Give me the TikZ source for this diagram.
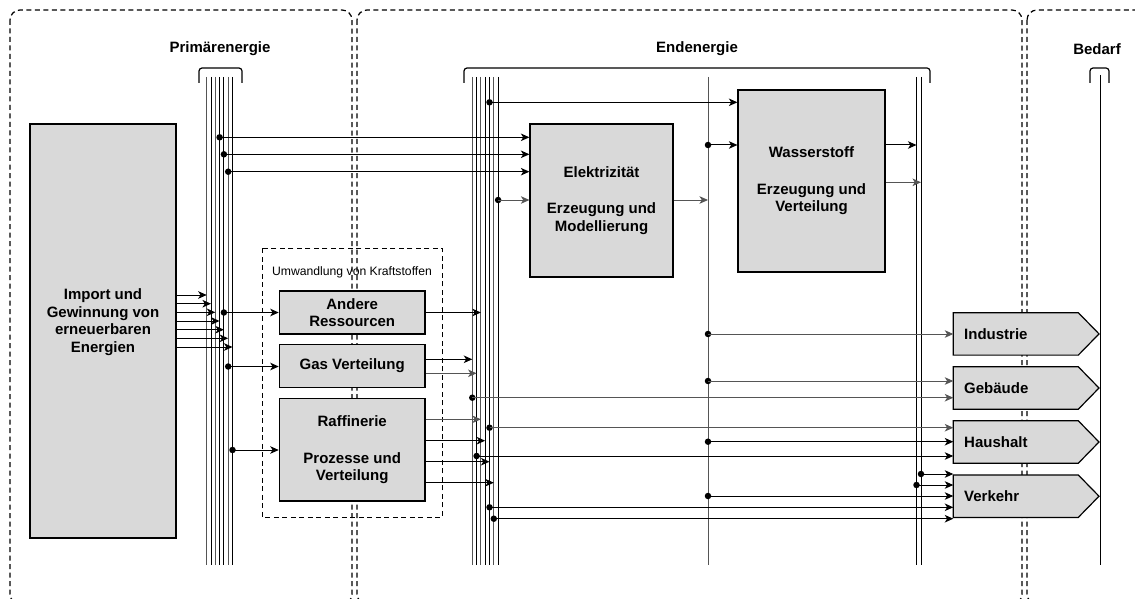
\documentclass[tikz,border=0pt]{standalone}
\usepackage{fontspec}
\setmainfont{Liberation Sans}
\usetikzlibrary{arrows.meta}
\definecolor{boxfill}{RGB}{217,217,217}
\definecolor{lgray}{RGB}{85,85,85}
\begin{document}
\begin{tikzpicture}[x=1pt,y=-1pt,
  box/.style={draw, line width=1.2pt, fill=boxfill, inner sep=0pt},
  btext/.style={font=\bfseries\fontsize{15}{17.5}\selectfont, align=center, inner sep=0pt},
  title/.style={font=\bfseries\fontsize{15}{17.5}\selectfont, inner sep=0pt},
  small/.style={font=\fontsize{12.2}{14}\selectfont, inner sep=0pt},
  region/.style={draw, line width=1.2pt, dash pattern=on 5pt off 3.5pt, rounded corners=10pt},
  subregion/.style={draw, line width=1.2pt, dash pattern=on 5pt off 3.5pt},
  busline/.style={line width=1pt},
  bracket/.style={draw, line width=1.2pt, rounded corners=3pt},
  conn/.style={line width=1pt, -{Stealth[length=8.5pt,width=7.5pt,inset=2.3pt]}},
  dot/.style={circle, fill=black, inner sep=0pt, minimum size=6.5pt},
  dbox/.style={draw, line width=1.2pt, fill=boxfill},
]
\useasboundingbox (0,0) rectangle (1135,599);
\clip (0,0) rectangle (1135,599);

% regions
\draw[region] (10,10) rectangle (352,604);
\draw[region] (357,10) rectangle (1022,604);
\draw[region] (1027,10) rectangle (1150,604);
\draw[subregion] (262.3,248.3) rectangle (442.3,517.3);

% titles
\node[title] (tprim) at (220,49) {Primärenergie};
\node[title] (tend) at (697,49) {Endenergie};
\node[title] (tbed) at (1097,49) {Bedarf};
\node[small] (tumw) at (352,272) {Umwandlung von Kraftstoffen};

% brackets
\draw[bracket] (199,83) -- (199,68) -- (242,68) -- (242,83);
\draw[bracket] (464,83) -- (464,68) -- (930,68) -- (930,83);
\draw[bracket] (1090,83) -- (1090,68) -- (1109,68) -- (1109,83);

% bus lines
\foreach \i/\x/\c in {1/206.7/lgray,2/211/black,3/215.3/lgray,4/219.6/black,5/223.9/black,6/228.2/lgray,7/232.5/black}{
  \coordinate (P\i) at (\x,77);
  \draw[busline,\c] (P\i) -- (\x,565);
}
\foreach \i/\x/\c in {1/472.3/lgray,2/476.6/black,3/480.9/lgray,4/485.2/black,5/489.5/black,6/493.8/lgray,7/498.1/black}{
  \coordinate (E\i) at (\x,77);
  \draw[busline,\c] (E\i) -- (\x,565);
}
\coordinate (W) at (708,77);
\draw[busline,lgray] (W) -- (708,565);
\coordinate (R1) at (916.5,77);
\coordinate (R2) at (921,77);
\draw[busline] (R1) -- (916.5,565);
\draw[busline] (R2) -- (921,565);
\coordinate (B) at (1100,75);
\draw[busline] (B) -- (1100,565);

% boxes
\node[box, minimum width=146pt, minimum height=414pt] (imp) at (103,331) {};
\node[btext] (impl) at (103,322) {Import und\\Gewinnung von\\erneuerbaren\\Energien};
\node[box, btext, minimum width=143pt, minimum height=153pt] (elek) at (601.5,200.5) {Elektrizität\\[19pt]Erzeugung und\\Modellierung};
\node[box, btext, minimum width=147pt, minimum height=182pt] (wass) at (811.5,181) {Wasserstoff\\[19pt]Erzeugung und\\Verteilung};
\node[box, btext, minimum width=145.7pt, minimum height=43pt] (andere) at (352.2,312.5) {Andere\\Ressourcen};
\node[box, btext, minimum width=145.7pt, minimum height=43pt] (gas) at (352.2,365.8) {Gas Verteilung};
\node[box, btext, minimum width=145.7pt, minimum height=102.7pt] (raff) at (352.2,449.7) {Raffinerie\\[19pt]Prozesse und\\Verteilung};

% demand boxes
\foreach \n/\t/\c in {ind/Industrie/333.9, geb/Gebäude/388, hau/Haushalt/442, ver/Verkehr/496.2}{
  \draw[dbox] (953.3,\c-21.2) -- (1078.3,\c-21.2) -- (1099,\c) -- (1078.3,\c+21.2) -- (953.3,\c+21.2) -- cycle;
  \coordinate (\n) at (953.3,\c);
  \node[btext, anchor=west] (\n l) at (964,\c) {\t};
}

% import arrows into primary bus
\foreach \i/\y in {1/295,2/303.7,3/312.3,4/321,5/329.7,6/338.3,7/347}{
  \draw[conn] (imp.east |- 0,\y) -- (P\i |- 0,\y);
}

% primary taps
\node[dot] (p1) at (P4 |- 0,137.3) {};
\node[dot] (p2) at (P5 |- 0,154.3) {};
\node[dot] (p3) at (P6 |- 0,171.7) {};
\node[dot] (p4) at (P5 |- 0,312.5) {};
\node[dot] (p5) at (P6 |- 0,366.5) {};
\node[dot] (p6) at (P7 |- 0,450) {};
\draw[conn] (p1.center) -- (elek.west |- p1);
\draw[conn] (p2.center) -- (elek.west |- p2);
\draw[conn] (p3.center) -- (elek.west |- p3);
\draw[conn] (p4.center) -- (andere.west |- p4);
\draw[conn] (p5.center) -- (gas.west |- p5);
\draw[conn] (p6.center) -- (raff.west |- p6);

% conversion outputs into final energy bus
\draw[conn] (andere.east |- 0,312.5) -- (E3 |- 0,312.5);
\draw[conn] (gas.east |- 0,359.3) -- (E1 |- 0,359.3);
\draw[conn,lgray] (gas.east |- 0,373.3) -- (E2 |- 0,373.3);
\draw[conn,lgray] (raff.east |- 0,419.3) -- (E3 |- 0,419.3);
\draw[conn] (raff.east |- 0,440.7) -- (E4 |- 0,440.7);
\draw[conn] (raff.east |- 0,461.7) -- (E5 |- 0,461.7);
\draw[conn] (raff.east |- 0,482.7) -- (E6 |- 0,482.7);

% final energy taps
\node[dot] (e1) at (E5 |- 0,102.3) {};
\node[dot] (e2) at (E7 |- 0,200) {};
\node[dot] (e3) at (E1 |- 0,397.7) {};
\node[dot] (e4) at (E5 |- 0,427.7) {};
\node[dot] (e5) at (E2 |- 0,456) {};
\node[dot] (e6) at (E5 |- 0,507.3) {};
\node[dot] (e7) at (E6 |- 0,518.7) {};
\draw[conn] (e1.center) -- (wass.west |- e1);
\draw[conn,lgray] (e2.center) -- (elek.west |- e2);
\draw[conn,lgray] (e3.center) -- (geb |- e3);
\draw[conn,lgray] (e4.center) -- (hau |- e4);
\draw[conn] (e5.center) -- (hau |- e5);
\draw[conn] (e6.center) -- (ver |- e6);
\draw[conn] (e7.center) -- (ver |- e7);

% electricity to hydrogen bus
\draw[conn,lgray] (elek.east |- 0,200) -- (W |- 0,200);

% hydrogen bus taps
\node[dot] (w1) at (W |- 0,145) {};
\node[dot] (w2) at (W |- 0,334) {};
\node[dot] (w3) at (W |- 0,381) {};
\node[dot] (w4) at (W |- 0,441.7) {};
\node[dot] (w5) at (W |- 0,496) {};
\draw[conn] (w1.center) -- (wass.west |- w1);
\draw[conn,lgray] (w2.center) -- (ind |- w2);
\draw[conn,lgray] (w3.center) -- (geb |- w3);
\draw[conn] (w4.center) -- (hau |- w4);
\draw[conn] (w5.center) -- (ver |- w5);

% hydrogen outputs
\draw[conn] (wass.east |- 0,145) -- (R1 |- 0,145);
\draw[conn,lgray] (wass.east |- 0,182.3) -- (R2 |- 0,182.3);

% right bus taps
\node[dot] (r1) at (R2 |- 0,474) {};
\node[dot] (r2) at (R1 |- 0,485) {};
\draw[conn] (r1.center) -- (ver |- r1);
\draw[conn] (r2.center) -- (ver |- r2);
\end{tikzpicture}
\end{document}
